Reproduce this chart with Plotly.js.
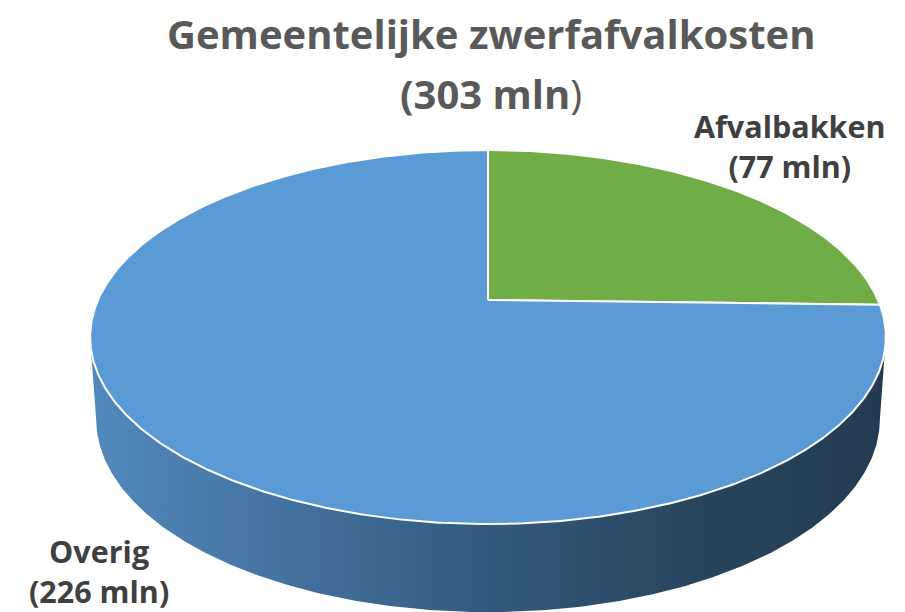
<!DOCTYPE html>
<html>
<head>
<meta charset="utf-8">
<script src="https://cdn.plot.ly/plotly-3.0.1.min.js"></script>
<style>html,body{margin:0;padding:0;background:#fff;}#chart{width:905px;height:612px;}</style>
</head>
<body>
<div id="chart"></div>
<script>
// ---- data ----
const categories = ["Afvalbakken", "Overig"];
const values = [77, 226];
const sliceColors = ["#70ad47", "#5b9bd5"];
const titleMain = "Gemeentelijke zwerfafvalkosten";
const unit = "mln";

// ---- geometry of the tilted (perspective) disc, in pixel-like axis units ----
const CX = 488, CY = 300, A = 179.7, B = 0.198, C = 390;
function proj(theta, drop) {
  const t = theta * Math.PI / 180;
  const u = Math.sin(t), v = Math.cos(t);
  const d = 1 + B * v;
  let x = CX + C * u / d, y = CY - A * v / d;
  if (drop) { y += 80 - 8 * v; x = CX + (x - CX) * 0.985; }
  return [x, y];
}

const total = values.reduce((s, v) => s + v, 0);
const traces = [];

// side wall (visible front part)
const thR = Math.acos(-B) * 180 / Math.PI, thL = 360 - thR;
const sx = [], sy = [];
for (let th = thR; th <= thL + 1e-9; th += 0.5) { const p = proj(th, false); sx.push(p[0]); sy.push(p[1]); }
for (let th = thL; th >= thR - 1e-9; th -= 0.5) { const p = proj(th, true); sx.push(p[0]); sy.push(p[1]); }
traces.push({
  x: sx, y: sy, type: 'scatter', mode: 'lines', fill: 'toself',
  line: {width: 0, color: 'rgba(0,0,0,0)'},
  fillgradient: {type: 'horizontal', colorscale: [[0, '#5289bd'], [0.25, '#44729f'], [0.5, '#335a7d'], [0.75, '#29465f'], [1, '#233b50']]},
  hoverinfo: 'skip'
});

// top slices
let start = 0;
categories.forEach((cat, i) => {
  const sweep = values[i] / total * 360;
  const xs = [CX], ys = [CY];
  const n = Math.max(8, Math.ceil(sweep * 2));
  for (let k = 0; k <= n; k++) { const p = proj(start + sweep * k / n, false); xs.push(p[0]); ys.push(p[1]); }
  xs.push(CX); ys.push(CY);
  traces.push({
    x: xs, y: ys, type: 'scatter', mode: 'lines', fill: 'toself',
    fillcolor: sliceColors[i], line: {color: '#ffffff', width: 2},
    name: cat, hoverinfo: 'name'
  });
  start += sweep;
});

const FONT = '"Open Sans", "Noto Sans", sans-serif';
const labelPos = [[790, 146], [99, 571]];
const annotations = categories.map((cat, i) => ({
  x: labelPos[i][0], y: labelPos[i][1], xref: 'x', yref: 'y', showarrow: false,
  text: '<b>' + cat + '<br>(' + values[i] + ' ' + unit + ')</b>',
  font: {family: FONT, size: 30.5, color: '#404040'},
  xanchor: 'center', yanchor: 'middle'
}));
// title (two lines placed separately to match line spacing)
annotations.push({
  x: 491, y: 33, xref: 'x', yref: 'y', showarrow: false,
  text: '<b>' + titleMain + '</b>',
  font: {family: FONT, size: 40, color: '#595959'},
  xanchor: 'center', yanchor: 'middle'
});
annotations.push({
  x: 491, y: 93, xref: 'x', yref: 'y', showarrow: false,
  text: '<b>(' + total + ' ' + unit + '</b>)',
  font: {family: FONT, size: 40, color: '#595959'},
  xanchor: 'center', yanchor: 'middle'
});

const layout = {
  width: 905, height: 612,
  margin: {l: 0, r: 0, t: 0, b: 0},
  paper_bgcolor: '#ffffff', plot_bgcolor: '#ffffff',
  showlegend: false,
  xaxis: {range: [0, 905], visible: false, fixedrange: true},
  yaxis: {range: [612, 0], visible: false, fixedrange: true},
  annotations: annotations
};

Plotly.newPlot('chart', traces, layout, {displayModeBar: false, staticPlot: true});
</script>
</body>
</html>
